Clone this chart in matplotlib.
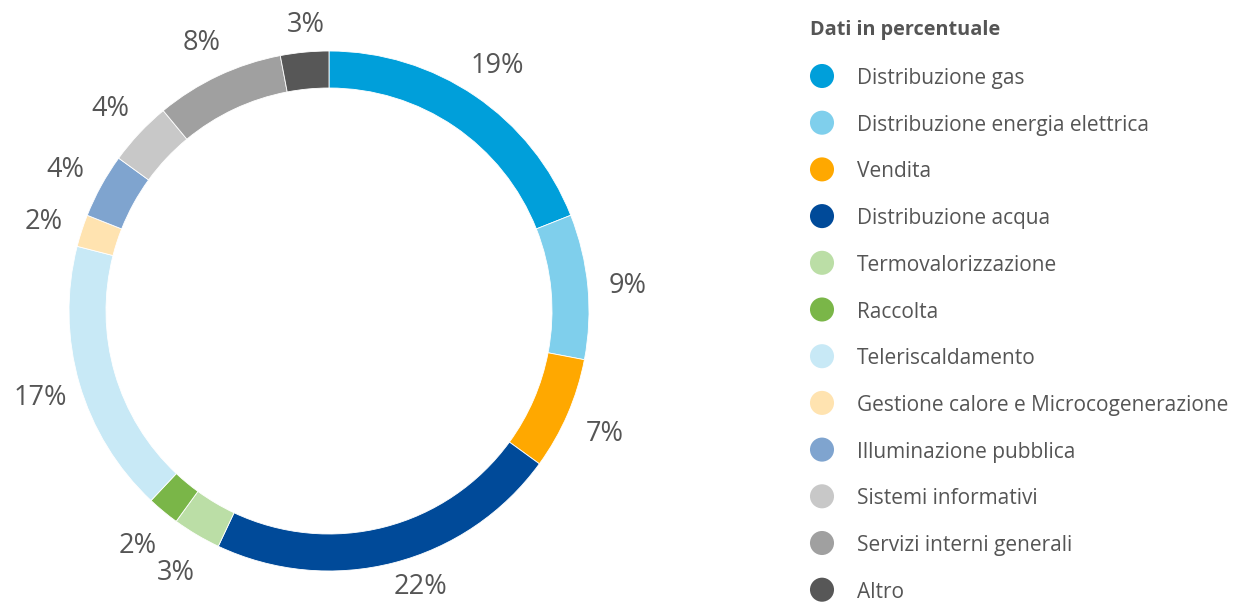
import numpy as np
import matplotlib.pyplot as plt

categories = ['Distribuzione gas', 'Distribuzione energia elettrica', 'Vendita',
              'Distribuzione acqua', 'Termovalorizzazione', 'Raccolta',
              'Teleriscaldamento', 'Gestione calore e Microcogenerazione',
              'Illuminazione pubblica', 'Sistemi informativi',
              'Servizi interni generali', 'Altro']
values = [19, 9, 7, 22, 3, 2, 17, 2, 4, 4, 8, 3]
colors = ['#009FDA', '#7FCFEC', '#FFA800', '#004A99', '#BBDEA6', '#7AB648',
          '#C8E9F6', '#FFE3B0', '#7FA4CF', '#C8C8C8', '#A0A0A0', '#575757']
legend_title = 'Dati in percentuale'

text_col = '#555555'
plt.rcParams['font.family'] = ['Open Sans', 'DejaVu Sans']

W, H = 1234, 602
fig = plt.figure(figsize=(W / 100, H / 100), dpi=100)
ax = fig.add_axes([0, 0, 1, 1])

# donut ring, clockwise from the top
cx, cy, R = 329, H - 311, 260
wedges, labels = ax.pie(values, colors=colors, center=(cx, cy), radius=R,
                        startangle=90, counterclock=False,
                        labels=['%d%%' % v for v in values], labeldistance=1.155,
                        wedgeprops=dict(width=37, edgecolor='white', linewidth=0.6),
                        textprops=dict(color=text_col, fontsize=19.5))
ax.set_xlim(0, W)
ax.set_ylim(0, H)
ax.set_aspect('equal')
ax.axis('off')

for t in labels:
    t.set_ha('center')
    t.set_va('center_baseline')
    x, y = t.get_position()
    ang = np.arctan2(y - cy, x - cx)
    # keep labels near the top/bottom edge inside the figure
    if y < 16:
        ang += 0.073
        t.set_position((cx + 287 * np.cos(ang), cy + 287 * np.sin(ang)))
    elif y > H - 22:
        ang -= 0.015
        t.set_position((cx + 290 * np.cos(ang), cy + 290 * np.sin(ang)))

# legend
ax.text(810, H - 27, legend_title, fontsize=14.3, fontweight='bold',
        color=text_col, va='center_baseline', ha='left')
y0, step = 76, 46.7
for i, (name, col) in enumerate(zip(categories, colors)):
    y = H - (y0 + i * step)
    ax.scatter([822], [y], s=300, color=col, edgecolors='none')
    ax.text(857, y, name, fontsize=15, color=text_col, va='center_baseline', ha='left')

fig.savefig('out.png', dpi=100)
